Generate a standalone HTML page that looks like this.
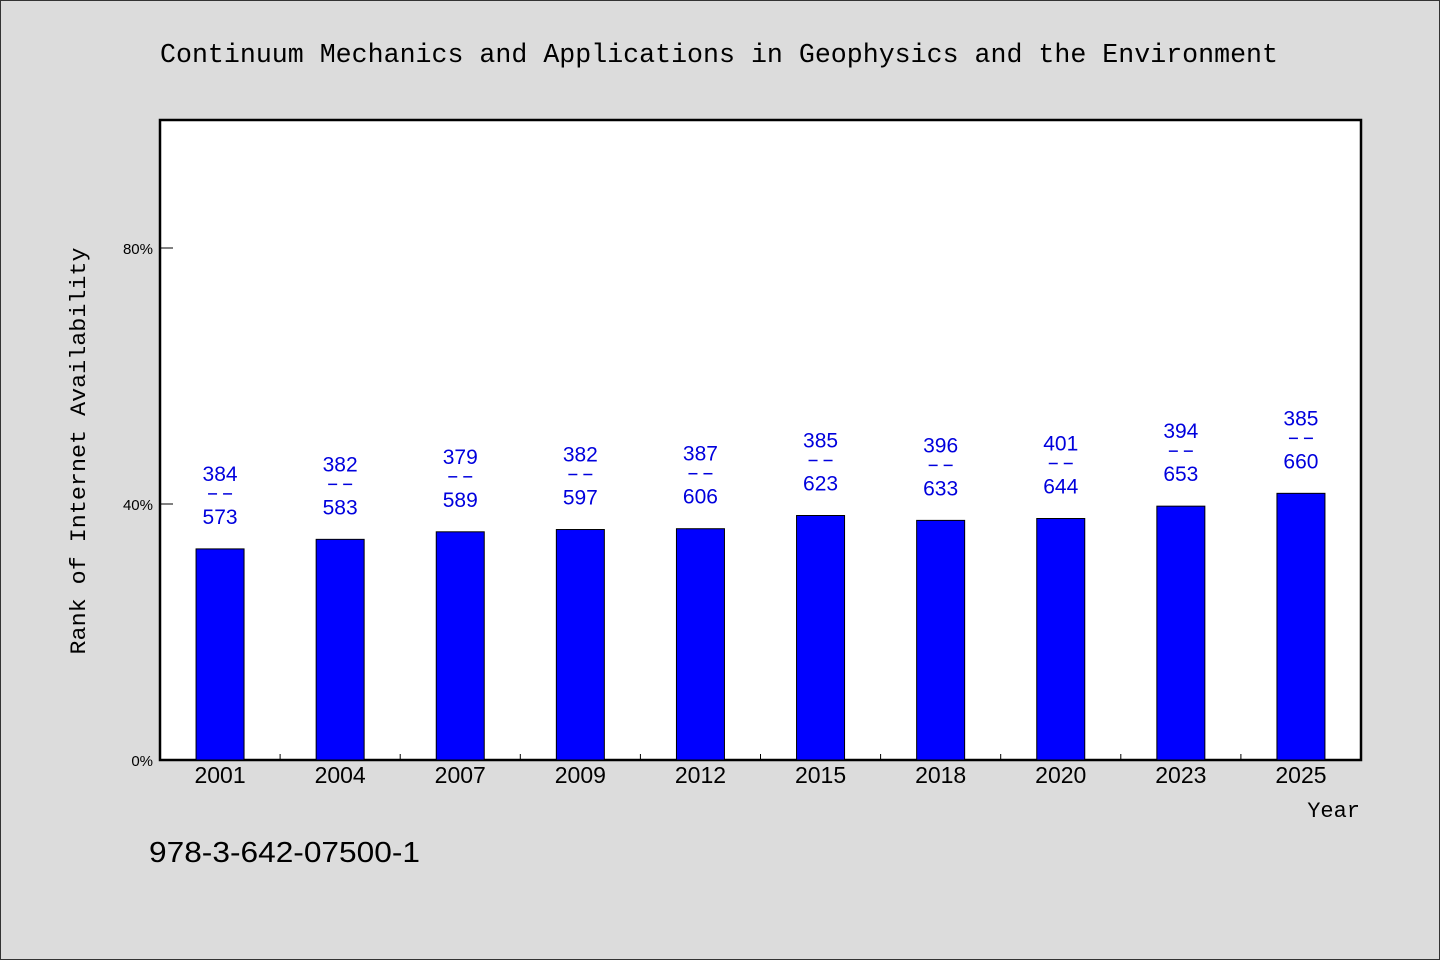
<!DOCTYPE html>
<html><head><meta charset="utf-8"><style>
html,body{margin:0;padding:0;background:#dcdcdc;}
svg{display:block;}
</style></head><body>
<svg width="1440" height="960" xmlns="http://www.w3.org/2000/svg">
<rect x="0.5" y="0.5" width="1439" height="959" fill="#dcdcdc" stroke="#333"/>
<text x="160" y="62" font-family="'Liberation Mono', monospace" font-size="27" textLength="1118" lengthAdjust="spacingAndGlyphs" fill="#000">Continuum Mechanics and Applications in Geophysics and the Environment</text>
<rect x="160" y="120" width="1201" height="640" fill="#fff" stroke="#000" stroke-width="2.5"/>
<g id="yticks"></g>
<g id="xticks"></g>
<g id="bars"></g>
<text transform="translate(85,451) rotate(-90)" text-anchor="middle" font-family="'Liberation Mono', monospace" font-size="22" textLength="407" lengthAdjust="spacingAndGlyphs" fill="#000">Rank of Internet Availability</text>
<text x="1360" y="817" text-anchor="end" font-family="'Liberation Mono', monospace" font-size="22" fill="#000">Year</text>
<text x="149" y="862" font-family="'Liberation Sans', sans-serif" font-size="29" textLength="271" lengthAdjust="spacingAndGlyphs" fill="#000">978-3-642-07500-1</text>
</svg>
<script>
const years = ['2001','2004','2007','2009','2012','2015','2018','2020','2023','2025'];
const ranks = [384,382,379,382,387,385,396,401,394,385];
const totals = [573,583,589,597,606,623,633,644,653,660];
const yTickValues = [0,40,80];
const yTickLabels = ['0%','40%','80%'];

const NS='http://www.w3.org/2000/svg';
const x0=160, slot=120.1, y0=760, pxPerPct=6.4, bw=48;
const yScale = v => y0 - v*pxPerPct;
const xCenter = i => x0 + slot*i + slot/2;
function mk(tag, attrs, parent, txt){const e=document.createElementNS(NS,tag);for(const k in attrs)e.setAttribute(k,attrs[k]);if(txt!==undefined)e.textContent=txt;parent.appendChild(e);return e;}

const yt=document.getElementById('yticks');
yTickValues.forEach((v,i)=>{
  const y=yScale(v);
  const l=mk('line',{x1:160,x2:173,y1:y,y2:y,stroke:'#000','stroke-width':1},yt);
  
  
  const t=mk('text',{x:153,y:y+6,'text-anchor':'end','font-family':"'Liberation Sans', sans-serif",'font-size':15,fill:'#000'},yt,yTickLabels[i]);
  
  
});
const xt=document.getElementById('xticks');
years.forEach((yr,i)=>{
  if(i>0){
    const xx=x0+slot*i;
    const l=mk('line',{x1:xx,x2:xx,y1:760,y2:754,stroke:'#000','stroke-width':1},xt);
    
    
  }
  const t=mk('text',{x:xCenter(i),y:783,'text-anchor':'middle','font-family':"'Liberation Sans', sans-serif",'font-size':23,fill:'#000'},xt,yr);
  
  
});
const bg=document.getElementById('bars');
years.forEach((yr,i)=>{
  const pct=(1-ranks[i]/totals[i])*100;
  const top=yScale(pct);
  const cx=xCenter(i);
  const r=mk('rect',{x:cx-bw/2,y:top,width:bw,height:y0-top,fill:'#0000ff',stroke:'#000','stroke-width':1},bg);
  
  
  const g=mk('g',{fill:'#0000dd','font-family':"'Liberation Sans', sans-serif",'font-size':21,'text-anchor':'middle'},bg);
  
  
  mk('text',{x:cx,y:top-68},g,String(ranks[i]));
  mk('line',{x1:cx-12,x2:cx-3,y1:top-55,y2:top-55,stroke:'#0000dd','stroke-width':1.5},g);
  mk('line',{x1:cx+3,x2:cx+12,y1:top-55,y2:top-55,stroke:'#0000dd','stroke-width':1.5},g);
  mk('text',{x:cx,y:top-25},g,String(totals[i]));
});
</script>
</body></html>
